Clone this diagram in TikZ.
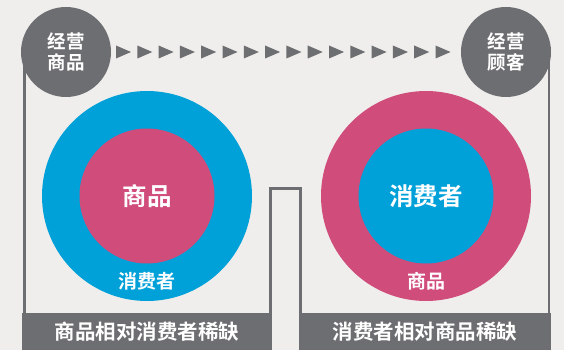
\documentclass[tikz,border=0pt]{standalone}
\usepackage{fontspec}
\setmainfont{Noto Sans CJK SC}[BoldFont={Noto Sans CJK SC Bold}]
\definecolor{bgc}{HTML}{EFEEEC}
\definecolor{grayc}{HTML}{6D6E71}
\definecolor{bluec}{HTML}{00A0D8}
\definecolor{pinkc}{HTML}{D04C7B}
\tikzset{
  frame/.style={draw=grayc, line width=2.8pt},
  gcircle/.style={circle, fill=grayc, minimum size=90pt, inner sep=0pt, text=white, align=center,
    font=\fontsize{18.5}{21}\selectfont\bfseries},
  ring/.style={circle, minimum size=210pt, inner sep=0pt},
  core/.style={circle, minimum size=135pt, inner sep=0pt, text=white, font=\fontsize{24.5}{28}\selectfont\bfseries},
  ringlabel/.style={text=white, inner sep=0pt, font=\fontsize{19}{22}\selectfont\bfseries},
  bar/.style={fill=grayc, minimum height=37pt, inner sep=0pt, text=white, font=\fontsize{20.5}{22}\selectfont\bfseries},
  tri/.style={fill=grayc}
}
\begin{document}
\begin{tikzpicture}[x=1pt,y=-1pt]
\fill[bgc] (0,0) rectangle (564,350);
\useasboundingbox (0,0) rectangle (564,350);
% bottom bars
\node[bar, minimum width=250pt] (bar1) at (147,331.5) {商品相对消费者稀缺};
\node[bar, minimum width=252pt] (bar2) at (425,331.5) {消费者相对商品稀缺};
% frame lines
\coordinate (lt) at (24.5,52);
\coordinate (rt) at (549,52);
\coordinate (brk) at (286,188.7);
\draw[frame] (lt) -- (lt |- bar1.north);
\draw[frame] (rt) -- (rt |- bar2.north);
\draw[frame] ([xshift=-1.5pt]bar1.north east) |- (brk) -| ([xshift=1.5pt]bar2.north west);
% top circles
\node[gcircle] (c1) at (66,52) {经营\\商品};
\node[gcircle] (c2) at (506,52) {经营\\顾客};
% arrow chain
\foreach \k in {0,...,15}{
  \fill[tri] ({116+21.3*\k},45.5) -- ({131+21.3*\k},52) -- ({116+21.3*\k},58.5) -- cycle;
}
% left rings
\node[ring, fill=bluec] (o1) at (147,196) {};
\node[core, fill=pinkc] (i1) at (147,196) {商品};
\node[ringlabel] (l1) at (147,281) {消费者};
% right rings
\node[ring, fill=pinkc] (o2) at (426,196) {};
\node[core, fill=bluec] (i2) at (426,196) {消费者};
\node[ringlabel] (l2) at (426,281) {商品};
\end{tikzpicture}
\end{document}
